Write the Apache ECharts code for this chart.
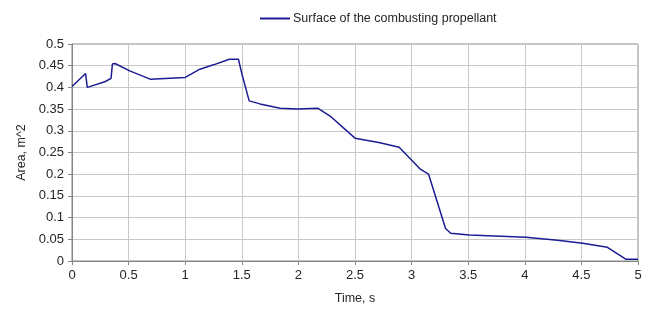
<!DOCTYPE html>
<html>
<head>
<meta charset="utf-8">
<script src="https://cdn.jsdelivr.net/npm/echarts@6/dist/echarts.min.js"></script>
<style>
  html, body { margin: 0; padding: 0; background: #fff; }
  #chart { width: 651px; height: 311px; }
</style>
</head>
<body>
<div id="chart"></div>
<script>
// time, s
var times = [0, 0.12, 0.135, 0.29, 0.345, 0.357, 0.38, 0.51, 0.69, 1.0, 1.13, 1.25,
  1.39, 1.40, 1.47, 1.50, 1.565, 1.66, 1.84, 1.99, 2.17, 2.28, 2.50, 2.71, 2.89,
  3.08, 3.15, 3.30, 3.345, 3.51, 4.01, 4.29, 4.51, 4.73, 4.895, 5.0];
// area, m^2
var areas = [0.402, 0.432, 0.400, 0.413, 0.421, 0.454, 0.455, 0.438, 0.419, 0.423, 0.442, 0.452,
  0.465, 0.463, 0.465, 0.432, 0.369, 0.362, 0.352, 0.350, 0.352, 0.334, 0.283, 0.273, 0.262,
  0.211, 0.200, 0.075, 0.064, 0.060, 0.055, 0.048, 0.041, 0.0315, 0.004, 0.004];
var seriesName = "Surface of the combusting propellant";

var points = times.map(function (t, i) { return [t, areas[i]]; });
var font = "Liberation Sans";

var myChart = echarts.init(document.getElementById("chart"));
myChart.setOption({
  animation: false,
  legend: {
    top: 7,
    left: 255,
    icon: "path://M0,0 L30,0 L30,2 L0,2 Z",
    itemWidth: 30,
    itemHeight: 2,
    itemGap: 4,
    textStyle: { fontFamily: font, fontSize: 12.5, color: "#262626", padding: [0, 0, 0, -2] },
    data: [seriesName]
  },
  grid: {
    left: 72, right: 13, top: 44, bottom: 50,
    show: true, borderColor: "#868686", borderWidth: 1
  },
  xAxis: {
    type: "value",
    min: 0, max: 5, interval: 0.5,
    name: "Time, s",
    nameLocation: "middle",
    nameGap: 31,
    nameTextStyle: { fontFamily: font, fontSize: 12.5, color: "#262626" },
    axisLine: { show: true, lineStyle: { color: "#868686" } },
    axisTick: { show: true, length: 4, lineStyle: { color: "#868686" } },
    axisLabel: { fontFamily: font, fontSize: 13, color: "#262626", margin: 8 },
    splitLine: { show: true, lineStyle: { color: "#c8c8c8" } }
  },
  yAxis: {
    type: "value",
    min: 0, max: 0.5, interval: 0.05,
    name: "Area, m^2",
    nameLocation: "middle",
    nameGap: 44,
    nameTextStyle: { fontFamily: font, fontSize: 12.5, color: "#262626" },
    axisLine: { show: true, lineStyle: { color: "#868686" } },
    axisTick: { show: true, length: 4, lineStyle: { color: "#868686" } },
    axisLabel: { fontFamily: font, fontSize: 13, color: "#262626", margin: 8 },
    splitLine: { show: true, lineStyle: { color: "#c8c8c8" } }
  },
  series: [{
    name: seriesName,
    type: "line",
    data: points,
    showSymbol: false,
    lineStyle: { color: "#1c1c94", width: 1.5 },
    itemStyle: { color: "#1c1c94" }
  }]
});
</script>
</body>
</html>
